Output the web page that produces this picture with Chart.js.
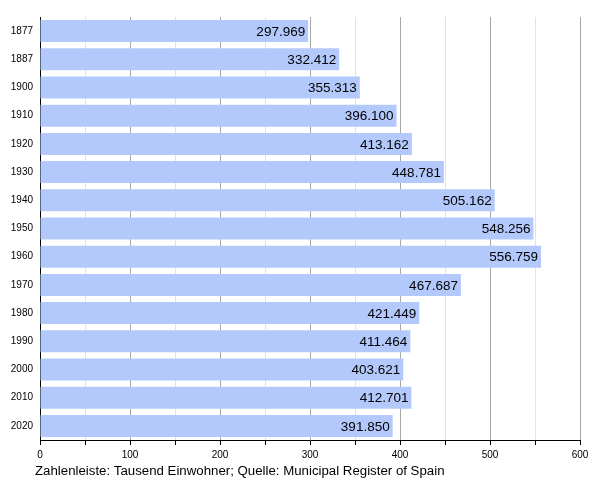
<!DOCTYPE html>
<html>
<head>
<meta charset="utf-8">
<script src="https://cdn.jsdelivr.net/npm/chart.js@4/dist/chart.umd.min.js"></script>
<style>
  html, body { margin: 0; padding: 0; background: #fff; }
</style>
</head>
<body>
<canvas id="grafico" width="600" height="480"></canvas>
<script>
// Einwohner in Tausend
var jahre = ["1877", "1887", "1900", "1910", "1920", "1930", "1940", "1950", "1960", "1970", "1980", "1990", "2000", "2010", "2020"];
var einwohner = [297.969, 332.412, 355.313, 396.100, 413.162, 448.781, 505.162, 548.256, 556.759, 467.687, 421.449, 411.464, 403.621, 412.701, 391.850];
var achseMin = 0;
var achseMax = 600;
var achseSchritt = 50;
var quelle = "Zahlenleiste: Tausend Einwohner; Quelle: Municipal Register of Spain";

var schrift = "'Liberation Sans', Arial, sans-serif";

// Werte rechts in den Balken schreiben, Quelle unten links
var werteBeschriften = {
    id: "werteBeschriften",
    afterDatasetsDraw: function (chart) {
        var ctx = chart.ctx;
        var meta = chart.getDatasetMeta(0);
        ctx.save();
        ctx.font = "13.5px " + schrift;
        ctx.fillStyle = "#000";
        ctx.textAlign = "right";
        ctx.textBaseline = "middle";
        meta.data.forEach(function (bar, i) {
            ctx.fillText(einwohner[i].toFixed(3), bar.x - 3, bar.y + 1);
        });
        ctx.restore();
    },
    afterDraw: function (chart) {
        var ctx = chart.ctx;
        ctx.save();
        ctx.font = "13.25px " + schrift;
        ctx.fillStyle = "#000";
        ctx.textAlign = "left";
        ctx.textBaseline = "middle";
        ctx.fillText(quelle, 35, chart.chartArea.bottom + 31);
        ctx.restore();
    }
};

var ctx = document.getElementById("grafico").getContext("2d");
new Chart(ctx, {
    type: "bar",
    data: {
        labels: jahre,
        datasets: [{
            data: einwohner,
            backgroundColor: "#b4c9fb",
            borderWidth: 0,
            barPercentage: 0.78,
            categoryPercentage: 1
        }]
    },
    options: {
        indexAxis: "y",
        responsive: false,
        animation: false,
        layout: { padding: { left: 0, right: 20, top: 17, bottom: 0 } },
        plugins: {
            legend: { display: false },
            tooltip: { enabled: false }
        },
        scales: {
            x: {
                min: achseMin,
                max: achseMax,
                afterFit: function (s) { s.height = 40; },
                ticks: {
                    stepSize: achseSchritt,
                    autoSkip: false,
                    maxRotation: 0,
                    padding: 4,
                    color: "#000",
                    font: { family: schrift, size: 10 },
                    callback: function (v) { return v % 100 === 0 ? v : ""; }
                },
                grid: {
                    color: function (c) { return c.tick && c.tick.value % 100 === 0 ? "#a8a8a8" : "#e2e2e2"; },
                    tickColor: "#000",
                    tickLength: 5
                },
                border: { color: "#000", width: 1 }
            },
            y: {
                afterFit: function (s) { s.width = 40; },
                ticks: {
                    padding: 7,
                    color: "#000",
                    font: { family: schrift, size: 10 }
                },
                grid: { drawOnChartArea: false, drawTicks: false },
                border: { color: "#000", width: 1 }
            }
        }
    },
    plugins: [werteBeschriften]
});
</script>
</body>
</html>
